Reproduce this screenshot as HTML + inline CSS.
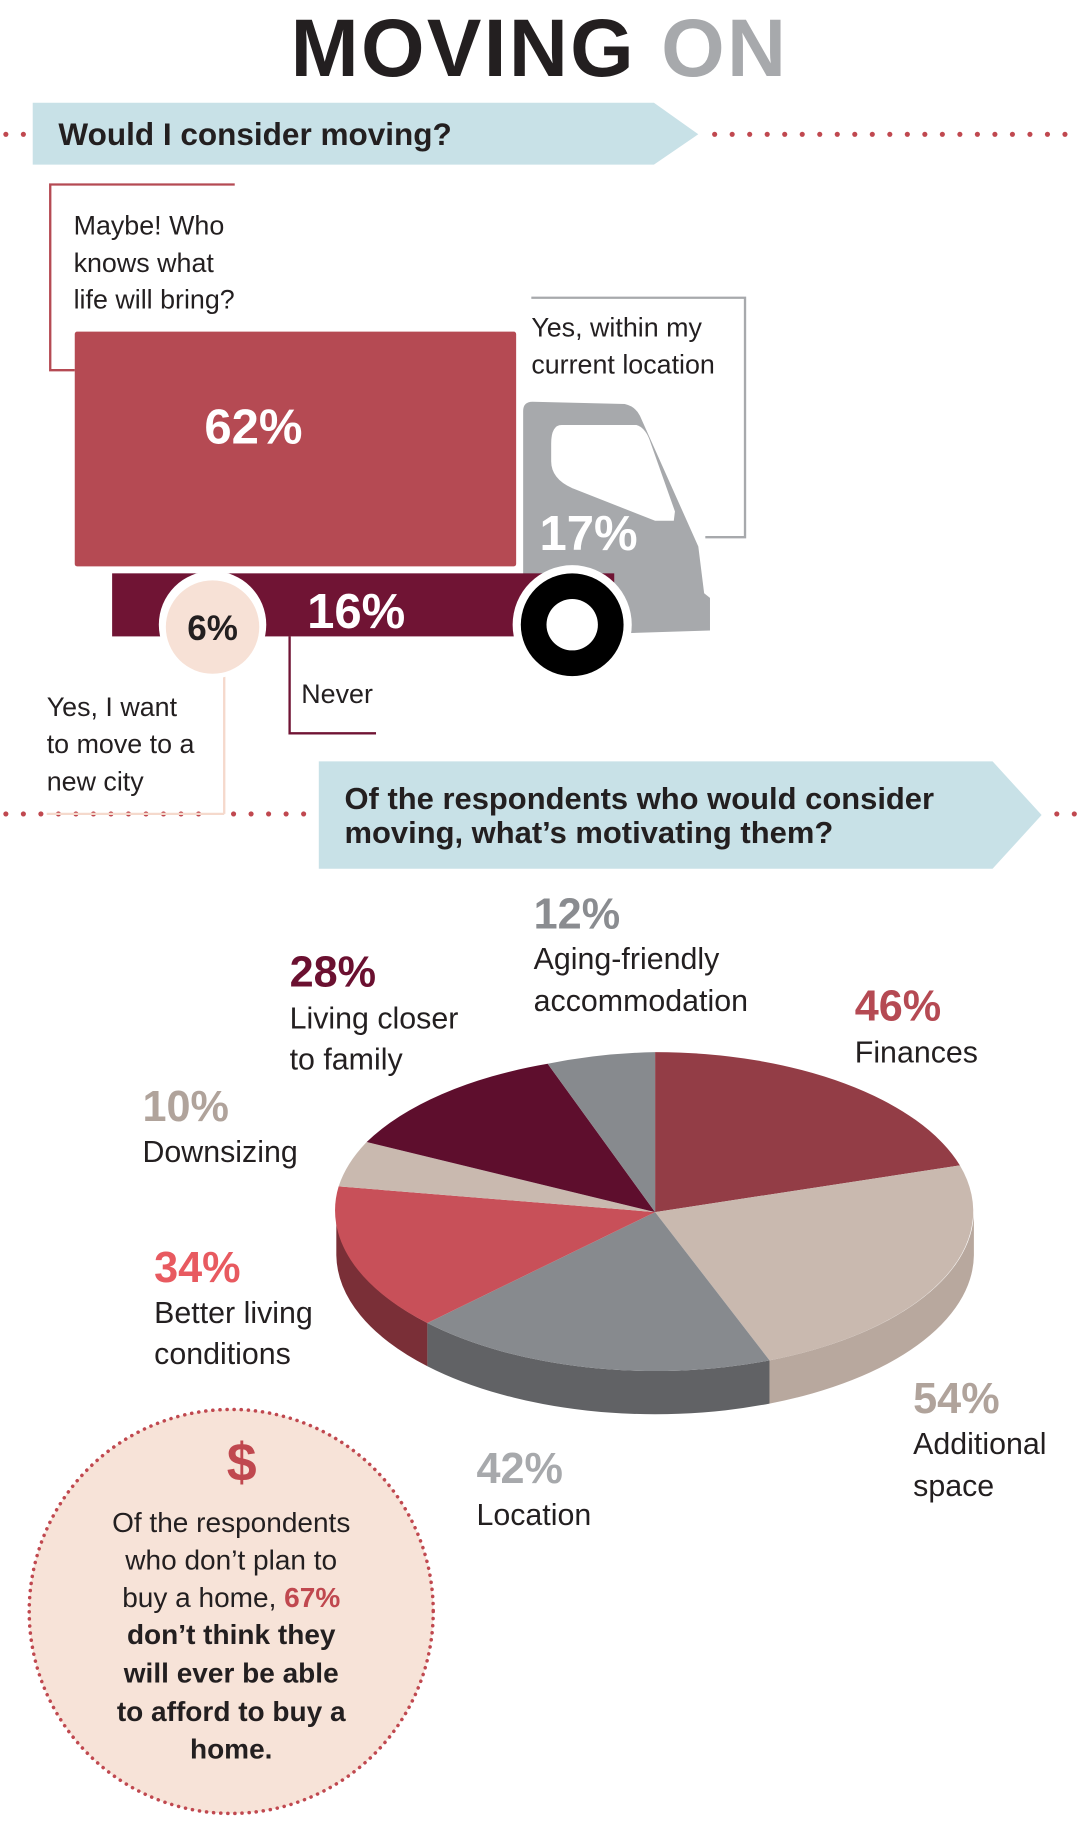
<!DOCTYPE html>
<html><head><meta charset="utf-8"><style>
html,body{margin:0;padding:0;background:#fff;}
svg{display:block;font-family:"Liberation Sans",sans-serif;}
</style></head><body>
<svg width="1079" height="1834" viewBox="0 0 924 1570.6" xmlns="http://www.w3.org/2000/svg">
<text x="462" y="65" text-anchor="middle" font-size="70" font-weight="bold" fill="#231f20" letter-spacing="2">MOVING <tspan fill="#a7a9ac">ON</tspan></text>
<g fill="#c0484f">
<circle cx="5" cy="115" r="2.2"/><circle cx="20" cy="115" r="2.2"/>
<circle cx="612" cy="115" r="2.2"/><circle cx="627" cy="115" r="2.2"/><circle cx="642" cy="115" r="2.2"/><circle cx="657" cy="115" r="2.2"/><circle cx="672" cy="115" r="2.2"/><circle cx="687" cy="115" r="2.2"/><circle cx="702" cy="115" r="2.2"/><circle cx="717" cy="115" r="2.2"/><circle cx="732" cy="115" r="2.2"/><circle cx="747" cy="115" r="2.2"/><circle cx="762" cy="115" r="2.2"/><circle cx="777" cy="115" r="2.2"/><circle cx="792" cy="115" r="2.2"/><circle cx="807" cy="115" r="2.2"/><circle cx="822" cy="115" r="2.2"/><circle cx="837" cy="115" r="2.2"/><circle cx="852" cy="115" r="2.2"/><circle cx="867" cy="115" r="2.2"/><circle cx="882" cy="115" r="2.2"/><circle cx="897" cy="115" r="2.2"/><circle cx="912" cy="115" r="2.2"/>
<circle cx="5" cy="697" r="2.2"/><circle cx="20" cy="697" r="2.2"/><circle cx="35" cy="697" r="2.2"/><circle cx="50" cy="697" r="2.2"/><circle cx="65" cy="697" r="2.2"/><circle cx="80" cy="697" r="2.2"/><circle cx="95" cy="697" r="2.2"/><circle cx="110" cy="697" r="2.2"/><circle cx="125" cy="697" r="2.2"/><circle cx="140" cy="697" r="2.2"/><circle cx="155" cy="697" r="2.2"/><circle cx="170" cy="697" r="2.2"/><circle cx="200" cy="697" r="2.2"/><circle cx="215" cy="697" r="2.2"/><circle cx="230" cy="697" r="2.2"/><circle cx="245" cy="697" r="2.2"/><circle cx="260" cy="697" r="2.2"/>
<circle cx="905" cy="697" r="2.2"/><circle cx="920" cy="697" r="2.2"/>
</g>
<polygon points="28,88 560,88 598,115 560,141 28,141" fill="#c8e1e7"/>
<text x="50" y="124" font-size="27" font-weight="bold" fill="#231f20">Would I consider moving?</text>
<polyline points="201,158 43,158 43,317 64,317" fill="none" stroke="#b54a53" stroke-width="2"/>
<g font-size="23" fill="#231f20"><text x="63" y="201">Maybe! Who</text><text x="63" y="233">knows what</text><text x="63" y="264">life will bring?</text>
<text x="455" y="288">Yes, within my</text><text x="455" y="320">current location</text>
<text x="258" y="602">Never</text>
<text x="40" y="613">Yes, I want</text><text x="40" y="645">to move to a</text><text x="40" y="677">new city</text></g>
<polyline points="455,255 638,255 638,460 604,460" fill="none" stroke="#a7a9ac" stroke-width="2"/>
<path d="M448,352 Q448,344 456,344 L535,346 Q544,348 548,356 L598,468 L603,508 L608,512 L608,540 L448,545 Z" fill="#a7a9ac"/>
<path d="M472,380 Q472,364 481,364 L545,364 Q552,366 556,376 L578,438 L577,446 L561,446 L490,418 Q472,410 472,395 Z" fill="#fff"/>
<rect x="64" y="284" width="378" height="201" rx="2" fill="#b54a53"/>
<text x="217" y="380" text-anchor="middle" font-size="42" font-weight="bold" fill="#fff">62%</text>
<text x="462" y="471" font-size="42" font-weight="bold" fill="#fff">17%</text>
<rect x="96" y="491" width="430" height="54" fill="#701434"/>
<circle cx="490" cy="535" r="51" fill="#fff"/>
<circle cx="490" cy="535" r="44" fill="#000"/>
<circle cx="490" cy="535" r="22" fill="#fff"/>
<line x1="192" y1="560" x2="192" y2="697" stroke="#f5d9cc" stroke-width="2"/>
<line x1="40" y1="697" x2="192" y2="697" stroke="#f5d9cc" stroke-width="2"/>
<circle cx="182" cy="535" r="46" fill="#fff"/>
<circle cx="182" cy="537" r="40" fill="#f7e1d6"/>
<text x="182" y="548" text-anchor="middle" font-size="30" font-weight="bold" fill="#231f20">6%</text>
<text x="263" y="538" font-size="42" font-weight="bold" fill="#fff">16%</text>
<polyline points="248,545 248,628 322,628" fill="none" stroke="#701434" stroke-width="2"/>
<polygon points="273,652 850,652 892,698 850,744 273,744" fill="#c8e1e7"/>
<text x="295" y="693" font-size="26.5" font-weight="bold" fill="#231f20">Of the respondents who would consider</text>
<text x="295" y="722" font-size="26.5" font-weight="bold" fill="#231f20">moving, what’s motivating them?</text>
<path d="M288,1038 L288,1075 A273,137 0 0 0 366,1170 L366,1133 A273,137 0 0 1 288,1038 Z" fill="#7a2f37"/>
<path d="M366,1133 L366,1170 A273,137 0 0 0 659,1202 L659,1165 A273,137 0 0 1 366,1133 Z" fill="#616265"/>
<path d="M659,1165 L659,1202 A273,137 0 0 0 834,1075 L834,1038 A273,137 0 0 1 659,1165 Z" fill="#b8a89e"/>
<path d="M561,1038 L561,901 A273,137 0 0 1 822,998 Z" fill="#933d46"/>
<path d="M561,1038 L822,998 A273,137 0 0 1 659,1165 Z" fill="#c9b9af"/>
<path d="M561,1038 L659,1165 A273,137 0 0 1 366,1133 Z" fill="#878a8e"/>
<path d="M561,1038 L366,1133 A273,137 0 0 1 290,1016 Z" fill="#c85059"/>
<path d="M561,1038 L290,1016 A273,137 0 0 1 314,978 Z" fill="#c9b9af"/>
<path d="M561,1038 L314,978 A273,137 0 0 1 469,911 Z" fill="#5e0e2d"/>
<path d="M561,1038 L469,911 A273,137 0 0 1 561,901 Z" fill="#878a8e"/>
<g font-size="37" font-weight="bold">
<text x="457" y="795" fill="#8a8c90">12%</text>
<text x="248" y="845" fill="#6b1030">28%</text>
<text x="732" y="874" fill="#b54a53">46%</text>
<text x="122" y="960" fill="#b0a39b">10%</text>
<text x="132" y="1098" fill="#e85a60">34%</text>
<text x="782" y="1210" fill="#b0a39b">54%</text>
<text x="408" y="1270" fill="#a7a9ac">42%</text>
</g>
<g font-size="26" fill="#231f20">
<text x="457" y="830">Aging-friendly</text><text x="457" y="866">accommodation</text>
<text x="248" y="881">Living closer</text><text x="248" y="916">to family</text>
<text x="732" y="910">Finances</text>
<text x="122" y="995">Downsizing</text>
<text x="132" y="1133">Better living</text><text x="132" y="1168">conditions</text>
<text x="782" y="1245">Additional</text><text x="782" y="1281">space</text>
<text x="408" y="1306">Location</text>
</g>
<circle cx="198" cy="1380" r="173" fill="#f7e3d8" stroke="#c0484f" stroke-width="3" stroke-dasharray="0.1 6" stroke-linecap="round"/>
<text x="207" y="1268" text-anchor="middle" font-size="46" font-weight="bold" fill="#c0484f">$</text>
<g font-size="24" fill="#231f20" text-anchor="middle">
<text x="198" y="1312">Of the respondents</text>
<text x="198" y="1344">who don’t plan to</text>
<text x="198" y="1376">buy a home, <tspan font-weight="bold" fill="#c0484f">67%</tspan></text>
<g font-weight="bold"><text x="198" y="1408">don’t think they</text>
<text x="198" y="1441">will ever be able</text>
<text x="198" y="1474">to afford to buy a</text>
<text x="198" y="1506">home.</text></g>
</g>
</svg>
</body></html>
